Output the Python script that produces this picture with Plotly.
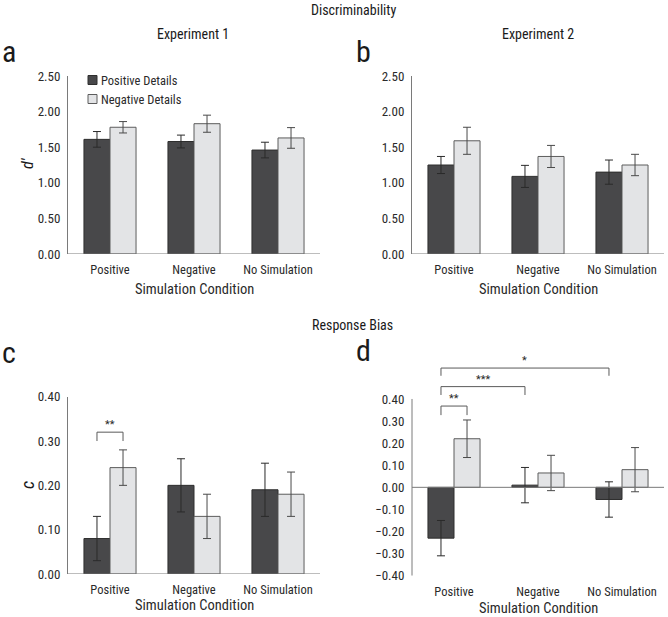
import plotly.graph_objects as go

# ---------------- data ----------------
categories = ["Positive", "Negative", "No Simulation"]
series_names = ["Positive Details", "Negative Details"]

# Discriminability (d')
exp1_dprime_pos = [1.61, 1.58, 1.46]
exp1_dprime_pos_err = [0.11, 0.09, 0.11]
exp1_dprime_neg = [1.78, 1.83, 1.63]
exp1_dprime_neg_err = [0.08, 0.12, 0.145]

exp2_dprime_pos = [1.25, 1.09, 1.15]
exp2_dprime_pos_err = [0.12, 0.155, 0.17]
exp2_dprime_neg = [1.59, 1.37, 1.25]
exp2_dprime_neg_err = [0.19, 0.155, 0.15]

# Response bias (c)
exp1_c_pos = [0.08, 0.20, 0.19]
exp1_c_pos_err = [0.05, 0.06, 0.06]
exp1_c_neg = [0.24, 0.13, 0.18]
exp1_c_neg_err = [0.04, 0.05, 0.05]

exp2_c_pos = [-0.23, 0.01, -0.055]
exp2_c_pos_err = [0.08, 0.08, 0.08]
exp2_c_neg = [0.22, 0.065, 0.08]
exp2_c_neg_err = [0.085, 0.08, 0.10]

dprime_ticks = [0.0, 0.5, 1.0, 1.5, 2.0, 2.5]
c1_ticks = [0.0, 0.1, 0.2, 0.3, 0.4]
c2_ticks = [-0.4, -0.3, -0.2, -0.1, 0.0, 0.1, 0.2, 0.3, 0.4]

# significance brackets: (from category, from series, to category, to series, top, foot, label)
brackets_c = [(0, 0, 0, 1, 0.32, 0.30, "**")]
brackets_d = [
    (0, 0, 0, 1, 0.368, 0.327, "**"),
    (0, 0, 1, 0, 0.456, 0.418, "***"),
    (0, 0, 2, 0, 0.54, 0.505, "*"),
]

# ---------------- style ----------------
W, H = 668, 617
FONT = "Roboto Condensed, DejaVu Sans Condensed, sans-serif"
DARK = "#48484a"
DARK_LINE = "#2e2e2e"
LIGHT = "#e3e4e6"
LIGHT_LINE = "#5c5c5c"
AXIS = "#7a7a7a"
TXT = "#2a2a2a"
BARGAP = 0.38
HALF = (1 - BARGAP) / 4  # offset of each bar centre from category centre


def px(x):
    return x / W


def py(y):
    return 1 - y / H


fig = go.Figure()

panels = [
    ("", (68, 320), (76, 254), (exp1_dprime_pos, exp1_dprime_pos_err, exp1_dprime_neg, exp1_dprime_neg_err),
     [0, 2.5], dprime_ticks, 289),
    ("2", (412, 664), (76, 254), (exp2_dprime_pos, exp2_dprime_pos_err, exp2_dprime_neg, exp2_dprime_neg_err),
     [0, 2.5], dprime_ticks, 289),
    ("3", (68, 320), (396.7, 574), (exp1_c_pos, exp1_c_pos_err, exp1_c_neg, exp1_c_neg_err),
     [0, 0.4], c1_ticks, 605),
    ("4", (412, 664), (354.8, 575.7), (exp2_c_pos, exp2_c_pos_err, exp2_c_neg, exp2_c_neg_err),
     [-0.4, 0.6], c2_ticks, 608),
]

xs = list(range(len(categories)))


def fmt(t):
    return "%.2f" % t if t >= 0 else "\u2212%.2f" % abs(t)


for i, (sfx, (x0, x1), (y0, y1), (pv, pe, nv, ne), yr, ticks, ty) in enumerate(panels):
    xa = "x" + sfx
    ya = "y" + sfx
    fig.add_trace(go.Bar(
        x=xs, y=pv, name=series_names[0], xaxis=xa, yaxis=ya,
        marker=dict(color=DARK, line=dict(color=DARK_LINE, width=1)),
        error_y=dict(type="data", array=pe, color="#2a2a2a", thickness=1, width=4),
        showlegend=False,
    ))
    fig.add_trace(go.Bar(
        x=xs, y=nv, name=series_names[1], xaxis=xa, yaxis=ya,
        marker=dict(color=LIGHT, line=dict(color=LIGHT_LINE, width=1)),
        error_y=dict(type="data", array=ne, color="#4a4a4a", thickness=1, width=4),
        showlegend=False,
    ))
    fig.layout["xaxis" + sfx] = dict(
        domain=[px(x0), px(x1)], anchor=ya, range=[-0.5, len(categories) - 0.5],
        tickvals=xs, ticktext=categories, showgrid=False, zeroline=False, showline=False,
        ticks="outside", ticklen=4, tickcolor="rgba(0,0,0,0)", automargin=False,
        tickfont=dict(family=FONT, size=12.5, color=TXT), fixedrange=True,
    )
    fig.layout["yaxis" + sfx] = dict(
        domain=[py(y1), py(y0)], anchor=xa, range=yr,
        tickvals=ticks, ticktext=[fmt(t) for t in ticks],
        showgrid=False, zeroline=False, showline=(sfx != "4"), linecolor=AXIS, linewidth=1,
        ticks="outside", ticklen=4, tickcolor="rgba(0,0,0,0)", automargin=False,
        tickfont=dict(family=FONT, size=13, color=TXT), fixedrange=True,
    )
    # x axis line at zero
    fig.add_shape(type="line", xref=xa + " domain", yref=ya, x0=0, x1=1, y0=0, y1=0,
                  line=dict(color=AXIS, width=1))
    if sfx == "4":
        fig.add_shape(type="line", xref=xa + " domain", yref=ya, x0=0, x1=0, y0=-0.4, y1=0.4,
                      line=dict(color=AXIS, width=1))
    fig.add_annotation(x=px((x0 + x1) / 2), y=py(ty), xref="paper", yref="paper",
                       text="Simulation Condition", showarrow=False, xanchor="center", yanchor="middle",
                       font=dict(family=FONT, size=14.5, color=TXT))

fig.update_layout(barmode="group", bargap=BARGAP, bargroupgap=0)


def draw_brackets(brs, xa, ya):
    for (c0, s0, c1, s1, top, foot, lab) in brs:
        xa0 = c0 + (-HALF if s0 == 0 else HALF)
        xa1 = c1 + (-HALF if s1 == 0 else HALF)
        fig.add_trace(go.Scatter(
            x=[xa0, xa0, xa1, xa1], y=[foot, top, top, foot], mode="lines",
            xaxis=xa, yaxis=ya, line=dict(color="#5a5a5a", width=1),
            showlegend=False, hoverinfo="skip", cliponaxis=False,
        ))
        fig.add_annotation(x=(xa0 + xa1) / 2, y=top, xref=xa, yref=ya, text=lab,
                           showarrow=False, xanchor="center", yanchor="bottom", yshift=-1,
                           font=dict(family=FONT, size=11, color=TXT))


draw_brackets(brackets_c, "x3", "y3")
draw_brackets(brackets_d, "x4", "y4")

# custom legend (panel a)
legend_rows = [(series_names[0], DARK, DARK_LINE, 80), (series_names[1], LIGHT, LIGHT_LINE, 99)]
for (name, fill, edge, yc) in legend_rows:
    fig.add_shape(type="rect", xref="paper", yref="paper", x0=px(88), x1=px(97),
                  y0=py(yc + 4.5), y1=py(yc - 4.5), fillcolor=fill, line=dict(color=edge, width=1))
    fig.add_annotation(x=px(99), y=py(yc), xref="paper", yref="paper", text=name, showarrow=False,
                       xanchor="left", yanchor="middle", font=dict(family=FONT, size=12.5, color=TXT))

# titles and labels
texts = [
    ("Discriminability", 353, 10, 14, 0),
    ("Experiment 1", 193, 34, 14, 0),
    ("Experiment 2", 538, 34, 14, 0),
    ("Response Bias", 352, 325, 14, 0),
    ("a", 9, 52, 30, 0),
    ("b", 363, 52, 30, 0),
    ("c", 9, 352, 30, 0),
    ("d", 363, 350, 30, 0),
    ("<i>d\u2032</i>", 27, 163, 16, -90),
    ("<i>c</i>", 27, 485, 18, -90),
]
for (t, x, y, s, ang) in texts:
    fig.add_annotation(x=px(x), y=py(y), xref="paper", yref="paper", text=t, showarrow=False,
                       xanchor="center", yanchor="middle", textangle=ang,
                       font=dict(family=FONT, size=s, color="#1a1a1a"))

fig.update_layout(
    template="none",
    width=W, height=H, margin=dict(l=0, r=0, t=0, b=0, autoexpand=False),
    paper_bgcolor="white", plot_bgcolor="white",
    font=dict(family=FONT, color=TXT), showlegend=False,
)

fig.write_html("out.html", config={"displayModeBar": False},
               post_script="document.body.style.margin='0px';document.body.style.overflow='hidden';")
